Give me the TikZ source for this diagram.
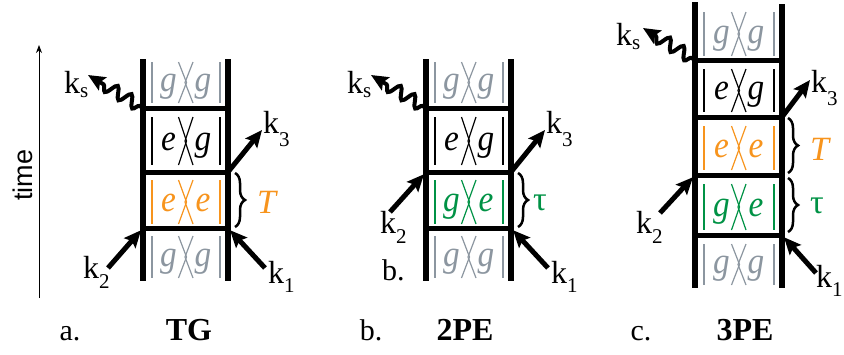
\documentclass[tikz,border=0pt]{standalone}
\usepackage{fontspec}
\setmainfont{Liberation Serif}
\newfontfamily\cellfont{Liberation Serif}[FakeStretch=0.9]
\newfontfamily\axisfont{Liberation Sans}
\usetikzlibrary{arrows.meta,decorations.pathmorphing,decorations.pathreplacing}
\definecolor{cgray}{RGB}{140,150,160}
\definecolor{corange}{RGB}{247,148,29}
\definecolor{cgreen}{RGB}{0,146,69}
\tikzset{
  rail/.style={line width=6.5pt},
  rung/.style={line width=5pt},
  beam/.style={line width=5pt,-{Stealth[length=17pt,width=15pt,inset=3pt]},shorten >=3pt},
  photon/.style={line width=4pt,-{Stealth[length=17pt,width=15pt,inset=3pt]},decorate,
    decoration={snake,amplitude=6pt,segment length=16pt,pre length=4pt,post length=15pt}},
  cellline/.style={line width=1.2pt},
  letter/.style={font=\cellfont\itshape\fontsize{37}{37}\selectfont,inner sep=0pt,anchor=base},
  klabel/.style={font=\fontsize{32}{32}\selectfont,inner sep=0pt,anchor=base west},
  bracefig/.style={decorate,decoration={brace,amplitude=10pt},line width=2.5pt},
  caption/.style={font=\fontsize{30}{30}\selectfont,inner sep=0pt,anchor=base},
  bcaption/.style={font=\bfseries\fontsize{32}{32}\selectfont,inner sep=0pt,anchor=base},
  delay/.style={font=\fontsize{34}{34}\selectfont,inner sep=0pt,anchor=base west},
}
\newcommand\ksub[2]{k\raisebox{-#2pt}{\fontsize{21}{21}\selectfont #1}}
\newcommand\kbcell[8]{%
  \pgfmathsetmacro\kbc{(#2+#3)/2}%
  \pgfmathsetmacro\kbm{(#4+#5)/2}%
  \draw[cellline,#6] (#2+9,#4) -- (#2+9,#5);
  \draw[cellline,#6] (#3-8,#4) -- (#3-8,#5);
  \draw[cellline,#6] (\kbc-7,#4) -- (\kbc+1,\kbm) -- (\kbc-7,#5);
  \draw[cellline,#6] (\kbc+7.5,#4) -- (\kbc-0.5,\kbm) -- (\kbc+7.5,#5);
  \node[letter,text=#6] (#1l) at (\kbc-17,\kbm+9) {#7};
  \node[letter,text=#6] (#1r) at (\kbc+17.5,\kbm+9) {#8};
}
\begin{document}
\begin{tikzpicture}[x=1pt,y=-1pt]
\useasboundingbox (0,0) rectangle (844,354);
% time axis
\coordinate (tbot) at (39,298);
\coordinate (ttop) at (39,45);
\draw[line width=1pt,-{Stealth[length=8pt,width=6pt]}] (tbot) -- (ttop);
\node[font=\axisfont\fontsize{27}{27}\selectfont,rotate=90,inner sep=0pt] (timelabel) at (23,175) {time};

% ===== panel a =====
\coordinate (aLt) at (143,59); \coordinate (aLb) at (143,281);
\coordinate (aRt) at (228,59); \coordinate (aRb) at (228,281);
\coordinate (aL1) at (143,108); \coordinate (aR1) at (228,108);
\coordinate (aL2) at (143,172); \coordinate (aR2) at (228,172);
\coordinate (aL3) at (143,228); \coordinate (aR3) at (228,228);
\kbcell{a1}{143}{228}{62}{103}{cgray}{g}{g}
\kbcell{a2}{143}{228}{117}{165}{black}{e}{g}
\kbcell{a3}{143}{228}{180}{224}{corange}{e}{e}
\kbcell{a4}{143}{228}{236}{278}{cgray}{g}{g}
\draw[rail] (aLt) -- (aLb);
\draw[rail] (aRt) -- (aRb);
\draw[rung] (aL1) -- (aR1);
\draw[rung] (aL2) -- (aR2);
\draw[rung] (aL3) -- (aR3);
\coordinate (ak2t) at (108,268);
\coordinate (ak1t) at (265,268);
\coordinate (ak3h) at (262,130);
\coordinate (aksh) at (88,75);
\draw[beam] (ak2t) -- (aL3);
\draw[beam] (ak1t) -- (aR3);
\draw[beam,shorten >=0pt] (aR2) -- (ak3h);
\draw[photon] (aL1) -- (aksh);
\node[klabel] (ak2) at (83,278) {\ksub{2}{10}};
\node[klabel] (ak1) at (268,283) {\ksub{1}{9}};
\node[klabel] (ak3) at (263,133) {\ksub{3}{13}};
\node[klabel] (aks) at (64,93) {\ksub{s}{4}};
\draw[bracefig] (235,173) -- (235,227);
\node[delay,text=corange] (aT) at (257,213) {\itshape T};
\node[caption] (acap) at (70,340) {a.};
\node[bcaption] (aname) at (189,340) {TG};

% ===== panel b =====
\coordinate (bLt) at (426,59); \coordinate (bLb) at (426,281);
\coordinate (bRt) at (511,59); \coordinate (bRb) at (511,281);
\coordinate (bL1) at (426,108); \coordinate (bR1) at (511,108);
\coordinate (bL2) at (426,172); \coordinate (bR2) at (511,172);
\coordinate (bL3) at (426,228); \coordinate (bR3) at (511,228);
\kbcell{b1}{426}{511}{62}{103}{cgray}{g}{g}
\kbcell{b2}{426}{511}{117}{165}{black}{e}{g}
\kbcell{b3}{426}{511}{180}{224}{cgreen}{g}{e}
\kbcell{b4}{426}{511}{236}{278}{cgray}{g}{g}
\draw[rail] (bLt) -- (bLb);
\draw[rail] (bRt) -- (bRb);
\draw[rung] (bL1) -- (bR1);
\draw[rung] (bL2) -- (bR2);
\draw[rung] (bL3) -- (bR3);
\coordinate (bk2t) at (390,212);
\coordinate (bk1t) at (548,268);
\coordinate (bk3h) at (545,130);
\coordinate (bksh) at (371,75);
\draw[beam] (bk2t) -- (bL2);
\draw[beam] (bk1t) -- (bR3);
\draw[beam,shorten >=0pt] (bR2) -- (bk3h);
\draw[photon] (bL1) -- (bksh);
\node[klabel] (bk2) at (380,233) {\ksub{2}{10}};
\node[klabel] (bk1) at (551,283) {\ksub{1}{9}};
\node[klabel] (bk3) at (546,133) {\ksub{3}{13}};
\node[klabel] (bks) at (347,93) {\ksub{s}{4}};
\node[caption,anchor=base west] (bmark) at (382,280) {b.};
\draw[bracefig] (518,173) -- (518,227);
\node[delay,text=cgreen] (btau) at (533,210) {τ};
\node[caption] (bcap) at (371,340) {b.};
\node[bcaption] (bname) at (465,340) {2PE};

% ===== panel c =====
\coordinate (cLt) at (695,2); \coordinate (cLb) at (695,288);
\coordinate (cRt) at (782,4); \coordinate (cRb) at (782,288);
\coordinate (cL1) at (695,60); \coordinate (cR1) at (782,60);
\coordinate (cL2) at (695,117); \coordinate (cR2) at (782,117);
\coordinate (cL3) at (695,175); \coordinate (cR3) at (782,175);
\coordinate (cL4) at (695,235); \coordinate (cR4) at (782,235);
\kbcell{c1}{695}{782}{12}{56}{cgray}{g}{g}
\kbcell{c2}{695}{782}{69}{112}{black}{e}{g}
\kbcell{c3}{695}{782}{126}{170}{corange}{e}{e}
\kbcell{c4}{695}{782}{184}{230}{cgreen}{g}{e}
\kbcell{c5}{695}{782}{244}{285}{cgray}{g}{g}
\draw[rail] (cLt) -- (cLb);
\draw[rail] (cRt) -- (cRb);
\draw[rung] (cL1) -- (cR1);
\draw[rung] (cL2) -- (cR2);
\draw[rung] (cL3) -- (cR3);
\draw[rung] (cL4) -- (cR4);
\coordinate (ck2t) at (660,213);
\coordinate (ck1t) at (816,273);
\coordinate (ck3h) at (810,80);
\coordinate (cksh) at (643,28);
\draw[beam] (ck2t) -- (cL3);
\draw[beam] (ck1t) -- (cR4);
\draw[beam,shorten >=0pt] (cR2) -- (ck3h);
\draw[photon] (cL1) -- (cksh);
\node[klabel] (ck2) at (636,233) {\ksub{2}{10}};
\node[klabel] (ck1) at (816,287) {\ksub{1}{9}};
\node[klabel] (ck3) at (811,92) {\ksub{3}{13}};
\node[klabel] (cks) at (616,45) {\ksub{s}{4}};
\draw[bracefig] (788,118) -- (788,173);
\node[delay,text=corange] (cT) at (810,160) {\itshape T};
\draw[bracefig] (788,178) -- (788,232);
\node[delay,text=cgreen] (ctau) at (810,213) {τ};
\node[caption] (ccap) at (641,340) {c.};
\node[bcaption] (cname) at (745,340) {3PE};
\end{tikzpicture}
\end{document}
